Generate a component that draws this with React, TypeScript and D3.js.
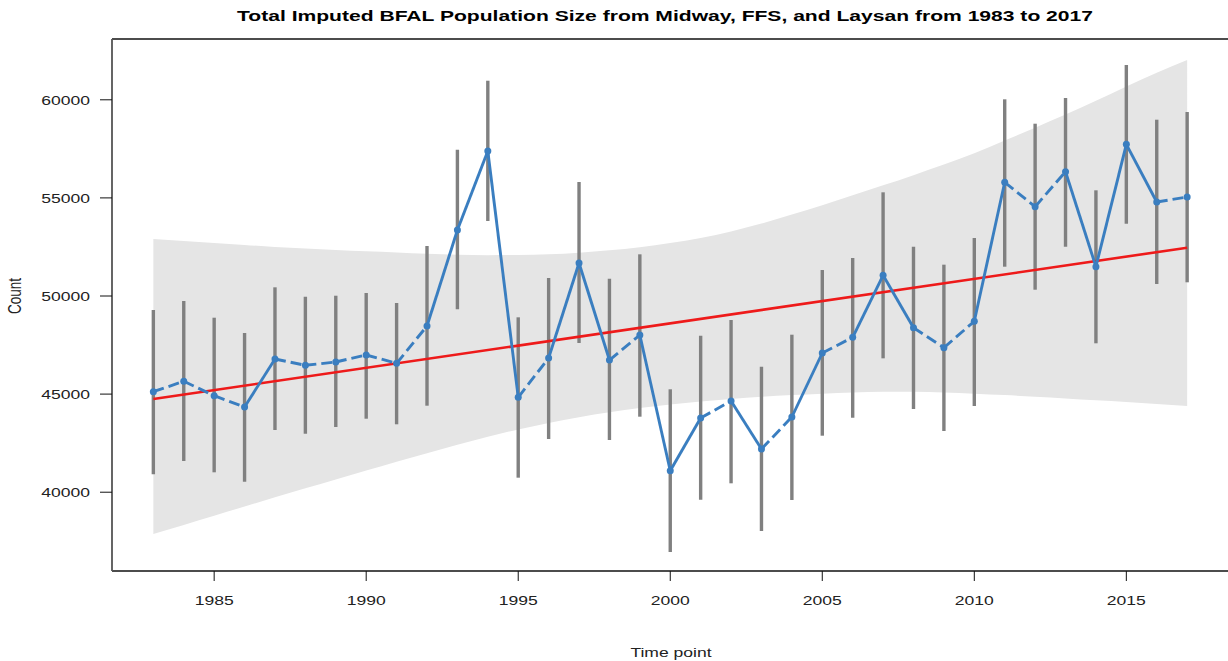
import React from "react";
import * as d3 from "d3";

const years = [1983,1984,1985,1986,1987,1988,1989,1990,1991,1992,1993,1994,1995,1996,1997,1998,1999,2000,2001,2002,2003,2004,2005,2006,2007,2008,2009,2010,2011,2012,2013,2014,2015,2016,2017];
const estimate = [45122,45652,44919,44343,46789,46468,46636,46993,46569,48471,53364,57390,44837,46840,51682,46738,48012,41096,43782,44648,42202,43833,47095,47893,51054,48386,47366,48710,55795,54552,56336,51494,57731,54791,55046];
const lowerCI = [40912,41590,41014,40535,43170,42982,43323,43746,43461,44409,49321,53823,40740,42712,47605,42661,43849,36952,39618,40453,38022,39603,42880,43798,46823,44241,43119,44393,51493,50321,52513,47589,53685,50612,50698];
const upperCI = [49286,49745,48894,48114,50443,49966,50015,50153,49643,52548,57457,60973,48914,50917,55810,50883,52125,45245,47977,48777,46398,48028,51325,51937,55285,52514,51597,52956,60025,58782,60092,55387,61774,58986,59378];
const bandUpper = [52905,52800,52700,52600,52500,52420,52350,52280,52220,52150,52100,52080,52090,52130,52210,52330,52490,52700,52960,53290,53690,54150,54630,55130,55640,56160,56700,57280,57920,58580,59250,59950,60680,61380,62030];
const bandLower = [37870,38330,38800,39270,39740,40200,40650,41100,41550,41990,42420,42830,43200,43530,43820,44070,44290,44470,44620,44750,44860,44950,45020,45080,45120,45120,45080,45020,44950,44870,44780,44690,44600,44500,44400];
const trendYears = [1983, 2017];
const trendValues = [44750, 52462];
const xTicks = [1985,1990,1995,2000,2005,2010,2015];
const yTicks = [40000,45000,50000,55000,60000];

const title = "Total Imputed BFAL Population Size from Midway, FFS, and Laysan from 1983 to 2017";
const xLabel = "Time point";
const yLabel = "Count";

const FONT = "'Liberation Sans', Arial, sans-serif";
const SX = 1.3;

export default function App() {
  const left = 112, right = 1228.5, top = 39, bottom = 571;
  const x = d3.scaleLinear().domain([1981.64, 2018.36]).range([left, right]);
  const y = d3.scaleLinear().domain([35984, 63099]).range([bottom, top]);

  const band = d3.area<number>()
    .x((_, i) => x(years[i]))
    .y0((_, i) => y(bandLower[i]))
    .y1((d) => y(d))
    .curve(d3.curveMonotoneX);
  const bandPath = band(bandUpper) || "";

  const trend = d3.line<number>()
    .x((_, i) => x(trendYears[i]))
    .y((d) => y(d))(trendValues) || "";

  const blue = "#3A7EC0";
  const segs = estimate.slice(1).map((v, i) => {
    const x1 = x(years[i]), y1 = y(estimate[i]);
    const x2 = x(years[i + 1]), y2 = y(v);
    const solid = Math.abs(y2 - y1) > 45;
    return { x1, y1, x2, y2, solid };
  });

  return (
    <svg width={1228} height={661} style={{ position: "absolute", left: 0, top: 0, background: "#fff" }}>
      <rect x={0} y={0} width={1228} height={661} fill="#fff" />
      <path d={bandPath} fill="#E5E5E5" stroke="none" />
      {years.map((yr, i) => (
        <line key={"eb" + yr} x1={x(yr)} x2={x(yr)} y1={y(lowerCI[i])} y2={y(upperCI[i])}
          stroke="#808080" strokeWidth={3.4} />
      ))}
      <path d={trend} fill="none" stroke="#EE1A1A" strokeWidth={2.6} />
      {segs.map((s, i) => (
        <line key={"sg" + i} x1={s.x1} y1={s.y1} x2={s.x2} y2={s.y2} stroke={blue}
          strokeWidth={2.9} strokeDasharray={s.solid ? undefined : "11,5"} />
      ))}
      {years.map((yr, i) => (
        <circle key={"pt" + yr} cx={x(yr)} cy={y(estimate[i])} r={3.5} fill={blue} />
      ))}
      {/* box */}
      <line x1={left} x2={right} y1={top} y2={top} stroke="#111" strokeWidth={1.5} />
      <line x1={left} x2={right} y1={bottom} y2={bottom} stroke="#111" strokeWidth={1.5} />
      <line x1={left} x2={left} y1={top} y2={bottom} stroke="#555" strokeWidth={1.8} />
      {/* y axis */}
      {yTicks.map((t) => (
        <g key={"yt" + t}>
          <line x1={100} x2={left} y1={y(t)} y2={y(t)} stroke="#111" strokeWidth={1} />
          <text transform={`translate(90,${y(t) + 5}) scale(${SX},1)`} textAnchor="end"
            fontFamily={FONT} fontSize={13.5} fill="#222">{t}</text>
        </g>
      ))}
      {/* x axis */}
      {xTicks.map((t) => (
        <g key={"xt" + t}>
          <line x1={x(t)} x2={x(t)} y1={bottom} y2={581} stroke="#111" strokeWidth={1} />
          <text transform={`translate(${x(t)},605) scale(${SX},1)`} textAnchor="middle"
            fontFamily={FONT} fontSize={13.5} fill="#222">{t}</text>
        </g>
      ))}
      <text transform={`translate(671,657) scale(${SX},1)`} textAnchor="middle"
        fontFamily={FONT} fontSize={13.5} fill="#222">{xLabel}</text>
      <text transform={`translate(21,296) scale(${SX},1) rotate(-90)`} textAnchor="middle"
        fontFamily={FONT} fontSize={13.5} fill="#222">{yLabel}</text>
      <text x={665} y={21} textAnchor="middle" fontFamily={FONT} fontWeight="bold" fontSize={14.5}
        textLength={856} lengthAdjust="spacingAndGlyphs" fill="#000">{title}</text>
    </svg>
  );
}
